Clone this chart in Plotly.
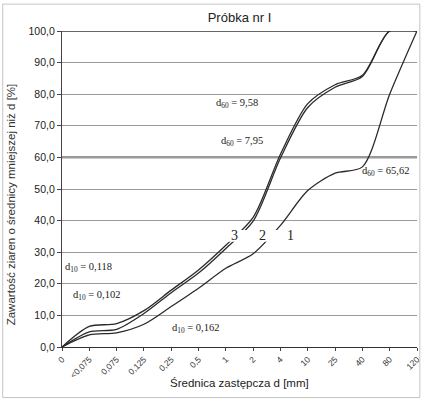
import plotly.graph_objects as go

categories = ["0", "<0,075", "0,075", "0,125", "0,25", "0,5", "1", "2", "4", "10", "25", "40", "80", "120"]
curve_3 = [0, 6.5, 7.4, 11.5, 18.0, 24.4, 32.2, 41.0, 61.0, 77.0, 83.0, 86.0, 100, 100]
curve_2 = [0, 4.8, 5.6, 10.6, 17.2, 23.4, 31.2, 39.8, 59.8, 75.8, 82.2, 85.6, 100, 100]
curve_1 = [0, 3.8, 4.5, 7.2, 12.8, 18.6, 24.9, 29.5, 38.5, 49.5, 55.0, 57.0, 80.0, 100]
y_ticks = [0, 10, 20, 30, 40, 50, 60, 70, 80, 90, 100]

curve_labels = ["3", "2", "1"]
curve_label_pos = [(6.3, 35.2), (7.35, 35.2), (8.35, 35.2)]

d_labels = ["d<sub>60</sub> = 9,58", "d<sub>60</sub> = 7,95", "d<sub>60</sub> = 65,62",
            "d<sub>10</sub> = 0,118", "d<sub>10</sub> = 0,102", "d<sub>10</sub> = 0,162"]
d_label_pos = [(6.4, 77.0), (6.6, 65.0), (11.85, 55.5), (0.97, 25.3), (1.27, 16.2), (4.9, 5.8)]

line_col = "#2a2a2a"
fig = go.Figure()
for ys in (curve_3, curve_2, curve_1):
    fig.add_trace(go.Scatter(x=categories, y=ys, mode="lines",
                             line=dict(color=line_col, width=1.3, shape="spline", smoothing=0.8),
                             showlegend=False, hoverinfo="skip"))

shapes = [
    # gap band where curve labels sit
    dict(type="rect", xref="x", yref="y", x0=6.1, x1=8.05, y0=33.3, y1=37.0,
         fillcolor="white", line=dict(width=0), layer="above"),
    dict(type="line", xref="paper", yref="y", x0=0, x1=1, y0=60, y1=60,
         line=dict(color="#333", width=1.6), layer="below"),
    dict(type="line", xref="paper", yref="y", x0=0, x1=1, y0=100, y1=100,
         line=dict(color="#333", width=1.4), layer="below"),
    # outer scan frame
    dict(type="rect", xref="paper", yref="paper", x0=-0.167, x1=1.008, y0=-0.16, y1=1.085,
         line=dict(color="#c4c4c4", width=1), fillcolor="rgba(0,0,0,0)"),
]

annotations = []
for t, (x, y) in zip(curve_labels, curve_label_pos):
    annotations.append(dict(x=x, y=y, xref="x", yref="y", text=t, showarrow=False,
                            font=dict(family="Liberation Serif", size=14, color="#222")))
for t, (x, y) in zip(d_labels, d_label_pos):
    annotations.append(dict(x=x, y=y, xref="x", yref="y", text=t, showarrow=False,
                            font=dict(family="Liberation Serif", size=10.5, color="#222")))
annotations.append(dict(x=-0.145, y=0.45, xref="paper", yref="paper", textangle=-90,
                        text="Zawartość ziaren o średnicy mniejszej niż d [%]", showarrow=False,
                        xanchor="center", yanchor="middle",
                        font=dict(family="Liberation Sans", size=11.5, color="#333")))
annotations.append(dict(x=0.5, y=-0.114, xref="paper", yref="paper",
                        text="Średnica zastępcza d [mm]", showarrow=False,
                        xanchor="center", yanchor="middle",
                        font=dict(family="Liberation Sans", size=11.5, color="#222")))

fig.update_layout(
    width=427, height=402,
    margin=dict(l=62, r=5, t=31, b=55),
    paper_bgcolor="white", plot_bgcolor="white",
    separators=", ",
    title=dict(text="Próbka nr I", x=0.5, xref="paper", y=1 - 17 / 402, yref="container",
               yanchor="middle", font=dict(family="Liberation Sans", size=13, color="#222")),
    shapes=shapes, annotations=annotations,
    xaxis=dict(type="category", categoryorder="array", categoryarray=categories,
               range=[0, 13], showgrid=False, showline=True, linecolor="#333", linewidth=1.3,
               ticks="outside", ticklen=3, tickcolor="#444", tickangle=-45,
               tickfont=dict(family="Liberation Sans", size=8.5, color="#333")),
    yaxis=dict(range=[0, 100], tickvals=y_ticks, tickformat=".1f",
               showgrid=True, gridcolor="#9a9a9a", gridwidth=1,
               showline=True, linecolor="#444", linewidth=1.2,
               ticks="outside", ticklen=4, tickcolor="#444",
               tickfont=dict(family="Liberation Sans", size=10.5, color="#222"), zeroline=False),
)

fig.write_html("out.html")
